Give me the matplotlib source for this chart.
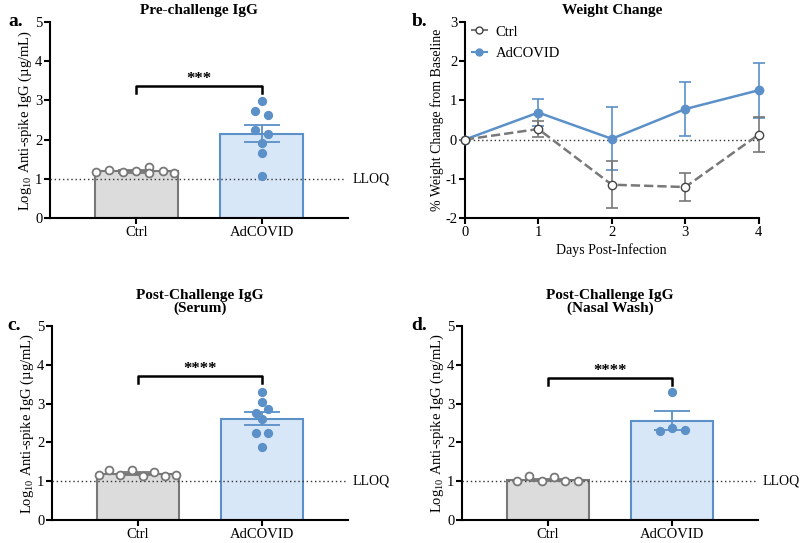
import numpy as np
import matplotlib
matplotlib.use("Agg")
import matplotlib.pyplot as plt
from matplotlib.lines import Line2D

plt.rcParams['font.family'] = ['Liberation Serif', 'DejaVu Serif']
plt.rcParams['mathtext.fontset'] = 'custom'
plt.rcParams['mathtext.rm'] = 'Liberation Serif'

BLUE = '#5b90c8'
BLUE_FILL = '#d8e7f7'
GRAY = '#787878'
GRAY_FILL = '#dcdcdc'

groups = ['Ctrl', 'AdCOVID']

# panel a - pre-challenge IgG (log10 ug/mL)
a_ctrl_pts = [1.17, 1.23, 1.17, 1.20, 1.31, 1.14, 1.20, 1.16]
a_ctrl_off = [-0.32, -0.22, -0.11, 0.0, 0.10, 0.10, 0.21, 0.30]
a_ad_pts = [2.98, 2.73, 2.64, 2.25, 2.14, 1.91, 1.65, 1.06]
a_ad_off = [0.0, -0.05, 0.05, -0.05, 0.05, 0.0, 0.0, 0.0]
a_means = [1.19, 2.15]
a_sem = [0.03, 0.22]

# panel b - weight change
days = [0, 1, 2, 3, 4]
ctrl_wt = [0.0, 0.27, -1.15, -1.21, 0.13]
ctrl_wt_sem = [0.0, 0.2, 0.6, 0.35, 0.44]
ad_wt = [0.0, 0.69, 0.02, 0.78, 1.26]
ad_wt_sem = [0.0, 0.34, 0.80, 0.69, 0.70]

# panel c - post-challenge serum
c_ctrl_pts = [1.17, 1.30, 1.17, 1.28, 1.14, 1.25, 1.14, 1.17]
c_ctrl_off = [-0.31, -0.23, -0.14, -0.05, 0.04, 0.13, 0.22, 0.31]
c_ad_pts = [3.31, 3.03, 2.75, 2.86, 2.60, 2.23, 2.23, 1.88]
c_ad_off = [0.0, 0.0, -0.05, 0.05, 0.0, -0.05, 0.05, 0.0]
c_means = [1.20, 2.61]
c_sem = [0.03, 0.17]

# panel d - post-challenge nasal wash
d_ctrl_pts = [1.00, 1.13, 1.00, 1.10, 1.00, 1.00]
d_ctrl_off = [-0.25, -0.15, -0.05, 0.05, 0.14, 0.24]
d_ad_pts = [3.29, 2.29, 2.36, 2.33]
d_ad_off = [0.0, -0.10, 0.0, 0.10]
d_means = [1.03, 2.56]
d_sem = [0.03, 0.25]

fig = plt.figure(figsize=(8, 5.43), dpi=100)


def style_axes(ax):
    for s in ['top', 'right']:
        ax.spines[s].set_visible(False)
    for s in ['left', 'bottom']:
        ax.spines[s].set_linewidth(1.5)
    ax.tick_params(width=1.5, length=4, labelsize=10.5, pad=1.5)


def bar_panel(rect, ctrl_pts, ctrl_off, ad_pts, ad_off, means, sem, stars,
              br_y, title, ylabel, letter, tpad, lx):
    ax = fig.add_axes(rect)
    style_axes(ax)
    ax.bar([0, 1], means, width=0.66, color=[GRAY_FILL, BLUE_FILL],
           edgecolor=[GRAY, BLUE], linewidth=1.5, zorder=2)
    ax.axhline(1, color='#333333', ls=(0, (1, 2)), lw=1.0, zorder=3,
               xmax=0.99)
    ax.text(1.015, 1, 'LLOQ', transform=ax.get_yaxis_transform(),
            va='center', ha='left', fontsize=10)
    for i, (m, s, c) in enumerate(zip(means, sem, [GRAY, BLUE])):
        ax.errorbar(i, m, yerr=s, color=c, capsize=13, capthick=1.3,
                    elinewidth=1.3, zorder=5, fmt='none')
    ax.scatter(np.array(ctrl_off), ctrl_pts, s=32, facecolor='white',
               edgecolor=GRAY, linewidth=1.3, zorder=6)
    ax.scatter(1 + np.array(ad_off), ad_pts, s=32, color=BLUE, zorder=6)
    ax.plot([0, 0, 1, 1], [br_y - 0.18, br_y, br_y, br_y - 0.18],
            color='black', lw=1.8, zorder=4)
    ax.text(0.5, br_y + 0.18, stars, ha='center', va='center',
            fontsize=12, fontweight='bold')
    ax.set_xlim(-0.69, 1.69)
    ax.set_ylim(0, 5)
    ax.set_yticks([0, 1, 2, 3, 4, 5])
    ax.set_xticks([0, 1])
    ax.set_xticklabels(groups)
    ax.set_ylabel(ylabel, fontsize=10.5, labelpad=1)
    ax.set_title(title, fontsize=11, fontweight='bold', pad=tpad,
                 linespacing=1.0)
    ax.text(lx, 1.0, letter, transform=ax.transAxes, fontsize=14,
            fontweight='bold', ha='left', va='center')
    return ax


bar_panel([0.0625, 0.5985, 0.3725, 0.361], a_ctrl_pts, a_ctrl_off,
          a_ad_pts, a_ad_off, a_means, a_sem, '***', 3.36,
          'Pre-challenge IgG', r'Log$_{\mathrm{10}}$ Anti-spike IgG (µg/mL)',
          'a.', 6, -0.14)
bar_panel([0.065, 0.042, 0.370, 0.358], c_ctrl_pts, c_ctrl_off,
          c_ad_pts, c_ad_off, c_means, c_sem, '****', 3.70,
          'Post-Challenge IgG\n(Serum)', r'Log$_{\mathrm{10}}$ Anti-spike IgG (µg/mL)',
          'c.', 10, -0.15)
bar_panel([0.5775, 0.042, 0.370, 0.358], d_ctrl_pts, d_ctrl_off,
          d_ad_pts, d_ad_off, d_means, d_sem, '****', 3.67,
          'Post-Challenge IgG\n(Nasal Wash)', r'Log$_{\mathrm{10}}$ Anti-spike IgG (ng/mL)',
          'd.', 10, -0.17)

# panel b
ax = fig.add_axes([0.581, 0.5985, 0.3675, 0.361])
style_axes(ax)
ax.axhline(0, color='#333333', ls=(0, (1, 2)), lw=1.0, zorder=1)
ax.errorbar(days, ad_wt, yerr=ad_wt_sem, color=BLUE, lw=1.8, marker='o',
            ms=6, capsize=4, elinewidth=1.2, capthick=1.2, zorder=3,
            clip_on=False)
ax.errorbar(days, ctrl_wt, yerr=ctrl_wt_sem, color=GRAY, lw=1.8, ls='--',
            marker='o', ms=6, mfc='white', mec='#444444', capsize=4,
            elinewidth=1.2, capthick=1.2, zorder=4, clip_on=False)
ax.set_xlim(0, 4)
ax.set_ylim(-2, 3)
ax.set_xticks(days)
ax.set_yticks([-2, -1, 0, 1, 2, 3])
ax.set_yticklabels(['-2', '-1', '0', '1', '2', '3'])
ax.set_xlabel('Days Post-Infection', fontsize=10, labelpad=3)
ax.set_ylabel('% Weight Change from Baseline', fontsize=10, labelpad=1)
ax.set_title('Weight Change', fontsize=11, fontweight='bold', pad=6)
handles = [
    Line2D([], [], color=GRAY, lw=1.5, marker='o', ms=5, mfc='white',
           mec='#444444'),
    Line2D([], [], color=BLUE, lw=1.5, marker='o', ms=5),
]
ax.legend(handles, ['Ctrl', 'AdCOVID'], loc='upper left', frameon=False,
          fontsize=10.5, handlelength=1.0, bbox_to_anchor=(-0.02, 1.05),
          handletextpad=0.6, labelspacing=0.55)
ax.text(-0.18, 1.0, 'b.', transform=ax.transAxes, fontsize=14,
        fontweight='bold', ha='left', va='center')

fig.savefig('out.png', dpi=100)
